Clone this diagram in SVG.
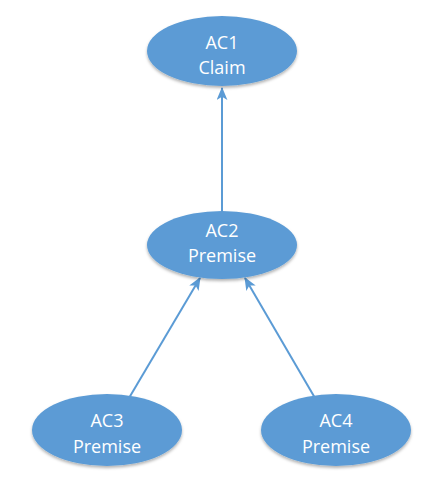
<svg xmlns="http://www.w3.org/2000/svg" width="444" height="490" viewBox="0 0 444 490">
<style>
.node ellipse{fill:#5B9BD5;filter:url(#sh)}
.node text{fill:#fff;font-family:"Open Sans","Liberation Sans",sans-serif;font-size:18px;text-anchor:middle}
.edge{stroke:#5B9BD5;stroke-width:2;fill:none;marker-end:url(#ah)}
</style>
<defs>
<marker id="ah" viewBox="0 0 12 10" refX="11" refY="5" markerWidth="13" markerHeight="11" markerUnits="userSpaceOnUse" orient="auto">
<path d="M0,0 L12,5 L0,10 L3,5 Z" fill="#5B9BD5"/>
</marker>
<filter id="sh" x="-10%" y="-10%" width="120%" height="130%">
<feDropShadow dx="0" dy="2" stdDeviation="1.5" flood-color="#000" flood-opacity="0.3"/>
</filter>
</defs>
<rect width="444" height="490" fill="#fff"/>
<g id="connectors">
<line class="edge" x1="222" y1="211" x2="222" y2="88"/>
<line class="edge" x1="129" y1="398" x2="200" y2="278"/>
<line class="edge" x1="315" y1="398" x2="245" y2="278"/>
</g>
<g id="AC1" class="node">
<ellipse cx="222" cy="51" rx="75" ry="35"/>
<text x="222" y="49">AC1</text>
<text x="222" y="74">Claim</text>
</g>
<g id="AC2" class="node">
<ellipse cx="222" cy="245" rx="75" ry="34"/>
<text x="222" y="237">AC2</text>
<text x="222" y="262">Premise</text>
</g>
<g id="AC3" class="node">
<ellipse cx="107" cy="430" rx="75" ry="36"/>
<text x="107" y="427">AC3</text>
<text x="107" y="453">Premise</text>
</g>
<g id="AC4" class="node">
<ellipse cx="336" cy="430" rx="75" ry="36"/>
<text x="336" y="427">AC4</text>
<text x="336" y="453">Premise</text>
</g>
</svg>
